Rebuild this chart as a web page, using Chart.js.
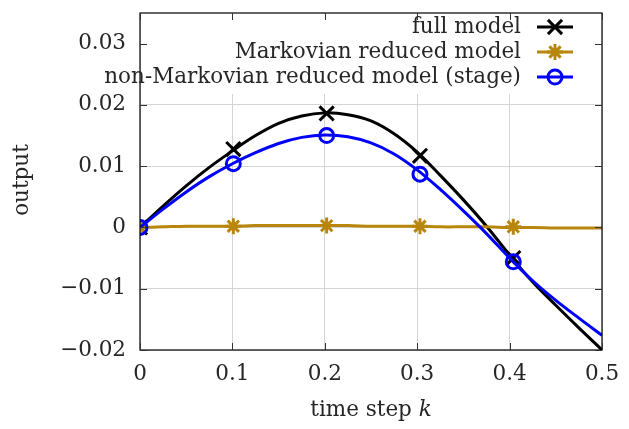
<!DOCTYPE html>
<html>
<head>
<meta charset="utf-8">
<script src="https://cdn.jsdelivr.net/npm/chart.js@4"></script>
<style>
  html, body { margin: 0; padding: 0; background: #fff; }
  #wrap { width: 629px; height: 429px; }
</style>
</head>
<body>
<div id="wrap"><canvas id="outputChart" width="629" height="429"></canvas></div>
<script>
// ===== 데이터 =====
const timeSteps = [0, 0.025, 0.05, 0.075, 0.1, 0.125, 0.15, 0.175, 0.2, 0.225, 0.25,
                   0.275, 0.3, 0.325, 0.35, 0.375, 0.4, 0.425, 0.45, 0.475, 0.5];
const fullModel = [0, 0.0035, 0.0068, 0.0098, 0.0125, 0.0150, 0.0170, 0.0182, 0.0187, 0.0184, 0.0174,
                   0.0153, 0.0123, 0.0085, 0.0045, 0.0002, -0.0045, -0.0089, -0.0127, -0.0164, -0.0200];
const markovModel = [0, 0.0001, 0.0002, 0.0002, 0.0002, 0.0003, 0.0003, 0.0003, 0.0003, 0.0003, 0.0002,
                     0.0002, 0.0002, 0.0001, 0.0001, 0.0001, 0.0000, 0.0000, -0.0001, -0.0001, -0.0001];
const nonMarkovModel = [0, 0.0030, 0.0058, 0.0083, 0.0104, 0.0122, 0.0137, 0.0147, 0.0151, 0.0148, 0.0138,
                        0.0120, 0.0094, 0.0062, 0.0027, -0.0010, -0.0050, -0.0087, -0.0119, -0.0148, -0.0176];

// 마커 위치 (stage)
const markerSteps = [0, 0.101, 0.202, 0.303, 0.404];
const fullMarkers = [0, 0.0128, 0.0186, 0.0117, -0.0050];
const markovMarkers = [0, 0.0002, 0.0003, 0.0002, 0.0001];
const nonMarkovMarkers = [0, 0.0104, 0.0150, 0.0087, -0.0056];

const xTicks = [0, 0.1, 0.2, 0.3, 0.4, 0.5];
const yTicks = [-0.02, -0.01, 0, 0.01, 0.02, 0.03];

const seriesLabels = ['full model', 'Markovian reduced model', 'non-Markovian reduced model (stage)'];

const BLACK = '#000000';
const GOLD = '#b8860b';
const BLUE = '#0000ff';
const FONT = '"DejaVu Serif", serif';
const FS = 21.5;
const TEXT = '#262626';

function toPoints(xs, ys) {
  return xs.map((x, i) => ({ x: x, y: ys[i] }));
}

function fmtTick(v) {
  return v < 0 ? '\u2212' + Math.abs(v) : String(v);
}

// 축 여백 제거 (눈금 라벨 때문에 생기는 padding)
function noPad(s) {
  s.paddingTop = 0; s.paddingBottom = 0;
  s.paddingLeft = 0; s.paddingRight = 0;
}

// ===== 범례, 테두리, 눈금 =====
const framePlugin = {
  id: 'frame',
  afterDatasetsDraw(chart) {
    const ctx = chart.ctx;
    const a = chart.chartArea;
    const xs = chart.scales.x, ys = chart.scales.y;
    ctx.save();

    // 범례 배경
    ctx.fillStyle = '#fff';
    ctx.fillRect(a.left + 1, a.top + 1, a.right - a.left - 2, 80);

    // 테두리
    ctx.strokeStyle = '#000';
    ctx.lineWidth = 1.2;
    ctx.strokeRect(a.left, a.top, a.right - a.left, a.bottom - a.top);

    // 안쪽 눈금
    ctx.lineWidth = 1;
    ctx.strokeStyle = '#333';
    ctx.beginPath();
    xTicks.forEach(v => {
      const px = Math.round(xs.getPixelForValue(v)) + 0.5;
      ctx.moveTo(px, a.bottom); ctx.lineTo(px, a.bottom - 7);
      ctx.moveTo(px, a.top); ctx.lineTo(px, a.top + 7);
    });
    yTicks.forEach(v => {
      const py = Math.round(ys.getPixelForValue(v)) + 0.5;
      ctx.moveTo(a.left, py); ctx.lineTo(a.left + 7, py);
      ctx.moveTo(a.right, py); ctx.lineTo(a.right - 7, py);
    });
    ctx.stroke();

    // 범례
    const colors = [BLACK, GOLD, BLUE];
    const styles = ['crossRot', 'star', 'circle'];
    const radii = [10, 8, 7];
    ctx.font = FS + 'px ' + FONT;
    ctx.textAlign = 'right';
    ctx.textBaseline = 'middle';
    seriesLabels.forEach((label, i) => {
      const y = 27 + i * 25;
      ctx.fillStyle = TEXT;
      ctx.fillText(label, 521, y);
      ctx.strokeStyle = colors[i];
      ctx.lineWidth = 3;
      ctx.beginPath();
      ctx.moveTo(537, y); ctx.lineTo(573, y);
      ctx.stroke();
      ctx.fillStyle = 'rgba(0,0,0,0)';
      Chart.helpers.drawPoint(ctx, {
        pointStyle: styles[i], radius: radii[i], rotation: 0, borderWidth: 3
      }, 555, y);
    });

    // 축 제목
    ctx.fillStyle = TEXT;
    ctx.textAlign = 'left';
    const t1 = 'time step ';
    ctx.font = FS + 'px ' + FONT;
    const w1 = ctx.measureText(t1).width;
    ctx.font = 'italic ' + FS + 'px ' + FONT;
    const w2 = ctx.measureText('k').width;
    const x0 = 371 - (w1 + w2) / 2;
    ctx.font = FS + 'px ' + FONT;
    ctx.fillText(t1, x0, 410);
    ctx.font = 'italic ' + FS + 'px ' + FONT;
    ctx.fillText('k', x0 + w1, 410);

    ctx.translate(22, 180);
    ctx.rotate(-Math.PI / 2);
    ctx.textAlign = 'center';
    ctx.font = FS + 'px ' + FONT;
    ctx.fillText('output', 0, 0);
    ctx.restore();
  }
};

function lineSet(label, ys, color, order) {
  return {
    label: label,
    data: toPoints(timeSteps, ys),
    borderColor: color,
    borderWidth: 3,
    pointRadius: 0,
    showLine: true,
    tension: 0.35,
    order: order
  };
}

function markerSet(label, ys, color, style, radius, order) {
  return {
    label: label,
    data: toPoints(markerSteps, ys),
    borderColor: color,
    backgroundColor: 'rgba(0,0,0,0)',
    pointStyle: style,
    pointRadius: radius,
    pointBorderWidth: 3,
    showLine: false,
    order: order
  };
}

const ctx = document.getElementById('outputChart');
new Chart(ctx, {
  type: 'scatter',
  data: {
    datasets: [
      lineSet(seriesLabels[0], fullModel, BLACK, 6),
      markerSet(seriesLabels[0], fullMarkers, BLACK, 'crossRot', 10, 5),
      lineSet(seriesLabels[1], markovModel, GOLD, 4),
      markerSet(seriesLabels[1], markovMarkers, GOLD, 'star', 8, 3),
      lineSet(seriesLabels[2], nonMarkovModel, BLUE, 2),
      markerSet(seriesLabels[2], nonMarkovMarkers, BLUE, 'circle', 7, 1)
    ]
  },
  options: {
    responsive: false,
    animation: false,
    events: [],
    layout: { padding: { left: 0, right: 27, top: 9, bottom: 0 } },
    plugins: {
      legend: { display: false },
      tooltip: { enabled: false }
    },
    scales: {
      x: {
        type: 'linear',
        min: 0,
        max: 0.5,
        afterBuildTicks: s => { s.ticks = xTicks.map(v => ({ value: v })); },
        afterFit: s => { s.height = 79; noPad(s); },
        grid: { color: '#d4d4d4', lineWidth: 1, drawTicks: false },
        border: { display: false },
        ticks: {
          padding: 12,
          color: TEXT,
          font: { family: FONT, size: FS },
          callback: v => fmtTick(v),
          maxRotation: 0
        }
      },
      y: {
        type: 'linear',
        min: -0.02,
        max: 0.035,
        afterBuildTicks: s => { s.ticks = yTicks.map(v => ({ value: v })); },
        afterFit: s => { s.width = 140; noPad(s); },
        grid: { color: '#d4d4d4', lineWidth: 1, drawTicks: false },
        border: { display: false },
        ticks: {
          padding: 14,
          color: TEXT,
          font: { family: FONT, size: FS },
          callback: v => fmtTick(v)
        }
      }
    }
  },
  plugins: [framePlugin]
});
</script>
</body>
</html>
